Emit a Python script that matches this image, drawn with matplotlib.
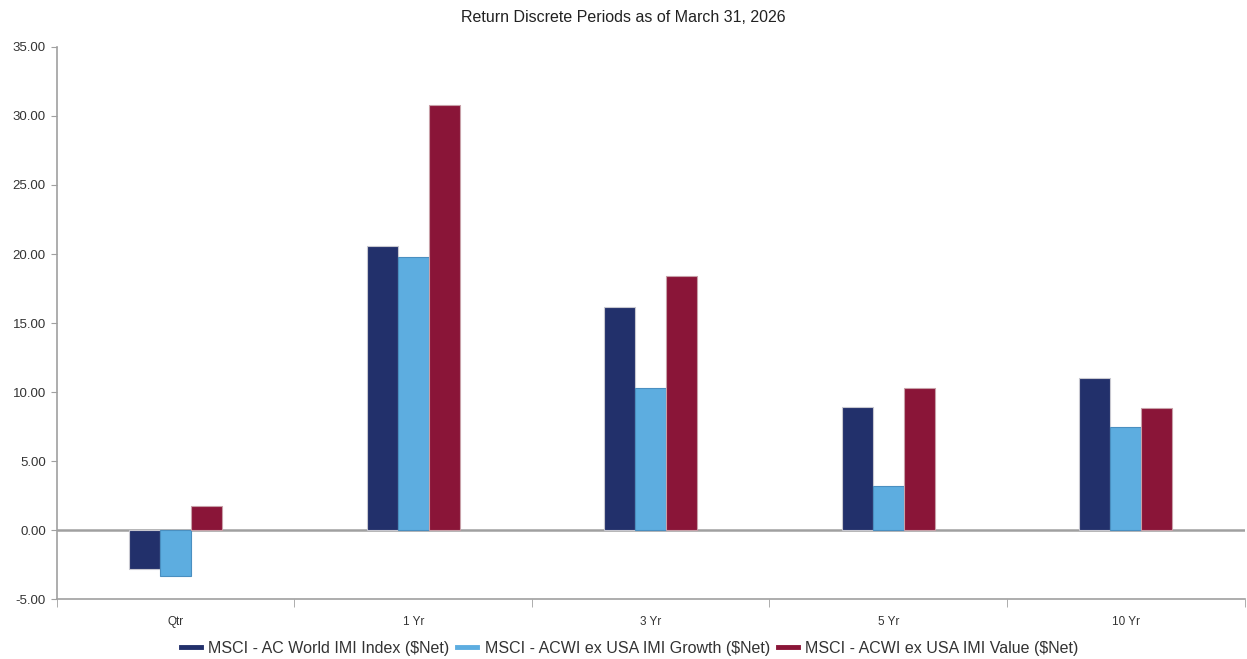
import matplotlib
matplotlib.use('Agg')
import matplotlib.pyplot as plt
from matplotlib.lines import Line2D
import numpy as np

plt.rcParams['font.family'] = ['Liberation Sans', 'DejaVu Sans']

periods = ['Qtr', '1 Yr', '3 Yr', '5 Yr', '10 Yr']
series_names = ['MSCI - AC World IMI Index ($Net)',
                'MSCI - ACWI ex USA IMI Growth ($Net)',
                'MSCI - ACWI ex USA IMI Value ($Net)']
acwi_imi = [-2.83, 20.60, 16.18, 8.95, 11.04]
growth = [-3.33, 19.80, 10.30, 3.20, 7.46]
value = [1.74, 30.82, 18.42, 10.30, 8.86]
colors = ['#22306B', '#5DADE0', '#8A1538']
edges = ['#c8c8d0', '#4a8fc0', '#c8a0a8']

fig = plt.figure(figsize=(12.47, 6.59), dpi=100)
ax = fig.add_axes([0.0457, 0.091, 0.9523, 0.8377])

x = np.arange(len(periods))
w = 0.13
for i, (vals, c, ec) in enumerate(zip([acwi_imi, growth, value], colors, edges)):
    ax.bar(x + (i - 1) * w, vals, width=w, color=c, edgecolor=ec, linewidth=0.8, zorder=3)

ax.axhline(0, color='#a0a0a0', linewidth=1.8, zorder=2)
ax.set_xlim(-0.5, len(periods) - 0.5)
ax.set_ylim(-5, 35)
yt = np.arange(-5, 36, 5)
ax.set_yticks(yt)
ax.set_yticklabels(['%.2f' % v for v in yt], fontsize=9.5, color='#333333')

ax.set_xticks(x)
ax.set_xticklabels(periods, fontsize=8.5, color='#333333')
ax.set_xticks(np.arange(-0.5, len(periods), 1), minor=True)
ax.tick_params(axis='x', which='major', length=0, pad=12)
ax.tick_params(axis='x', which='minor', length=6, color='#a0a0a0', direction='out')
ax.tick_params(axis='y', length=4, color='#a0a0a0', pad=4)

for s in ['top', 'right']:
    ax.spines[s].set_visible(False)
for s in ['left', 'bottom']:
    ax.spines[s].set_color('#a0a0a0')
    ax.spines[s].set_linewidth(1.2)

fig.text(0.5, 1 - 17 / 659, 'Return Discrete Periods as of March 31, 2026',
         ha='center', va='center', fontsize=11.5, color='#222222')

handles = [Line2D([0], [0], color=c, linewidth=3.5) for c in colors]
fig.legend(handles, series_names, loc='center', bbox_to_anchor=(0.505, 11 / 659), ncol=3,
           frameon=False, fontsize=11.5, handlelength=1.25, columnspacing=0.5,
           handletextpad=0.45, labelcolor='#333333')

fig.savefig('out.png', dpi=100)
